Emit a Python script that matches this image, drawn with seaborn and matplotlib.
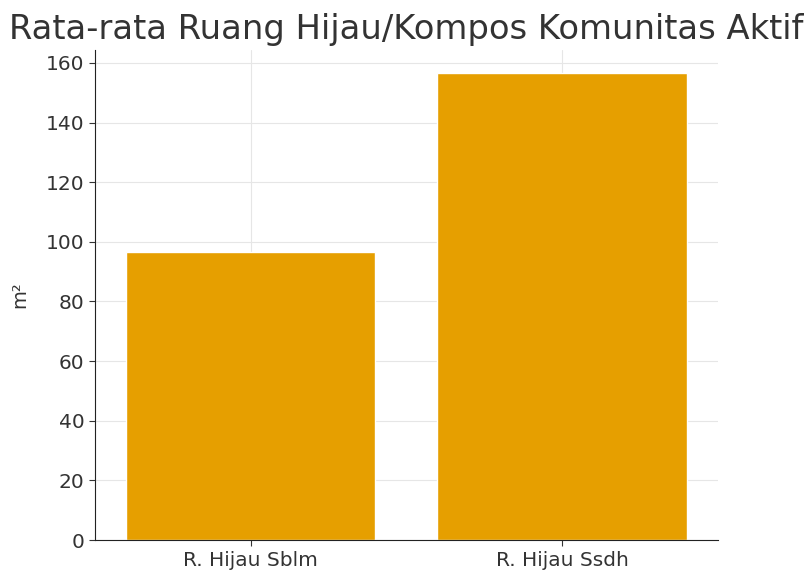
import matplotlib
matplotlib.use('Agg')
import matplotlib.pyplot as plt
import seaborn as sns
import pandas as pd

# data
kategori = ['R. Hijau Sblm', 'R. Hijau Ssdh']
luas = [96.5, 156.5]

df = pd.DataFrame({'kategori': kategori, 'luas': luas})

sns.set_style('whitegrid', {'grid.linestyle': '-', 'grid.color': '#e6e6e6'})
plt.rcParams['font.family'] = ['DejaVu Sans']

fig, ax = plt.subplots(figsize=(8.11, 5.74), dpi=100)
fig.subplots_adjust(left=0.117, right=0.885, bottom=0.059, top=0.913)
sns.barplot(data=df, x='kategori', y='luas', color='#E69F00', saturation=1, width=0.8, ax=ax)

ax.set_title('Rata-rata Ruang Hijau/Kompos Komunitas Aktif', fontsize=24.3, color='#333333', pad=8)
ax.set_xlabel('')
ax.set_ylabel('m²', fontsize=14, color='#333333', labelpad=12)
ax.tick_params(axis='both', labelsize=14.5, colors='#333333', length=4, left=True, bottom=True)
ax.xaxis.grid(True, color='#e6e6e6')
ax.set_axisbelow(True)
ax.spines['left'].set_color('#222222')
ax.spines['bottom'].set_color('#222222')
sns.despine(ax=ax)

plt.savefig('out.png', dpi=100)
